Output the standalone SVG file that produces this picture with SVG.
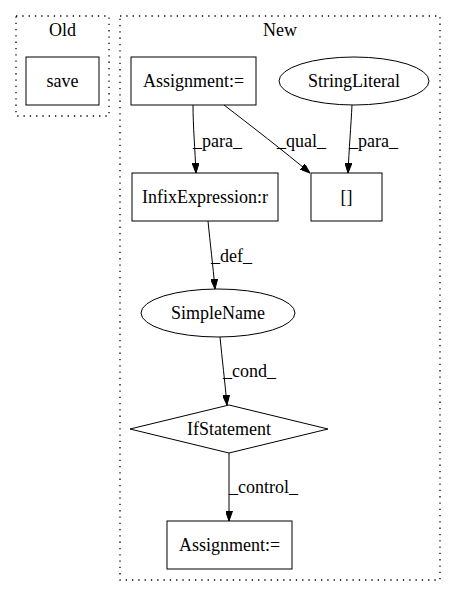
<svg xmlns="http://www.w3.org/2000/svg" width="456" height="596" viewBox="0 0 456 596">
<style>
text{font-family:"Liberation Serif","Times New Roman",serif;font-size:18px;fill:#000;text-anchor:middle}
.n{fill:none;stroke:#000;stroke-width:1}
.c{fill:none;stroke:#000;stroke-width:1.3;stroke-dasharray:1.3,5}
.e{fill:none;stroke:#000;stroke-width:1}
.l{text-anchor:start}
</style>
<defs>
<marker id="a" viewBox="0 0 10 7" refX="10" refY="3.5" markerWidth="10" markerHeight="7" markerUnits="userSpaceOnUse" orient="auto">
<path d="M0,0 L10,3.5 L0,7 Z" fill="#000" stroke="#000"/>
</marker>
</defs>
<rect width="456" height="596" fill="#fff"/>
<g id="cluster_old">
<rect class="c" x="16" y="16" width="93" height="100"/>
<text x="62.5" y="36">Old</text>
</g>
<g id="cluster_new">
<rect class="c" x="120" y="16" width="320" height="564"/>
<text x="280" y="36">New</text>
</g>
<g id="save"><rect class="n" x="26" y="57" width="73" height="48"/><text x="62.5" y="87">save</text></g>
<g id="assign1"><rect class="n" x="131" y="57" width="125" height="48"/><text x="193.5" y="87">Assignment:=</text></g>
<g id="strlit"><ellipse class="n" cx="354" cy="81" rx="75" ry="24"/><text x="354" y="87">StringLiteral</text></g>
<g id="index"><rect class="n" x="311" y="173" width="71" height="48"/><text x="346.5" y="203">[]</text></g>
<g id="infix"><rect class="n" x="132" y="173" width="146" height="48"/><text x="205" y="203">InfixExpression:r</text></g>
<g id="simplename"><ellipse class="n" cx="218" cy="313" rx="77" ry="24"/><text x="218" y="319">SimpleName</text></g>
<g id="ifstmt"><polygon class="n" points="229,405 328,429 229,453 130,429"/><text x="229" y="435">IfStatement</text></g>
<g id="assign2"><rect class="n" x="167" y="521" width="125" height="48"/><text x="229.5" y="551">Assignment:=</text></g>
<g id="edges">
<path class="e" d="M193,105 C193,125 195,150 196,173" marker-end="url(#a)"/>
<text class="l" x="193" y="147">_para_</text>
<path class="e" d="M224,105 C250,125 285,152 310,173" marker-end="url(#a)"/>
<text class="l" x="277" y="147">_qual_</text>
<path class="e" d="M352,105 C351,125 349,150 348,173" marker-end="url(#a)"/>
<text class="l" x="349" y="147">_para_</text>
<path class="e" d="M208,221 C210,242 213,266 215,289" marker-end="url(#a)"/>
<text class="l" x="211" y="262">_def_</text>
<path class="e" d="M220,337 C222,358 225,383 227,405" marker-end="url(#a)"/>
<text class="l" x="223" y="377">_cond_</text>
<path class="e" d="M229,453 L229,521" marker-end="url(#a)"/>
<text class="l" x="229" y="493">_control_</text>
</g>
</svg>
